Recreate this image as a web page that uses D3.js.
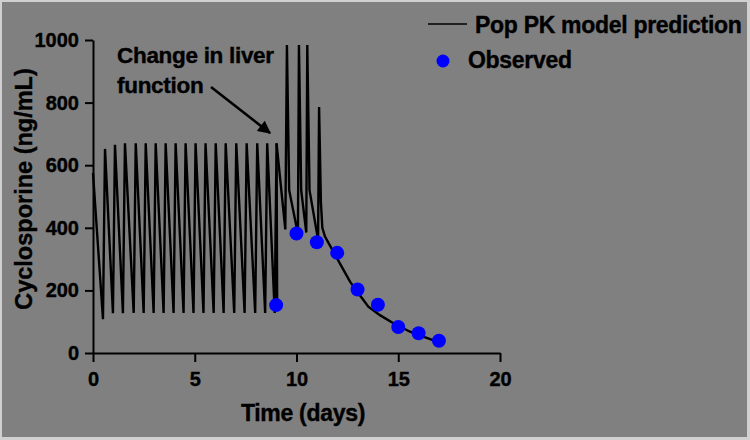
<!DOCTYPE html>
<html>
<head>
<meta charset="utf-8">
<script src="https://cdn.jsdelivr.net/npm/d3@7"></script>
<style>
  html, body { margin: 0; padding: 0; background: #d0d0d0; }
  svg { display: block; }
  text { font-family: "Liberation Sans", Arial, sans-serif; font-weight: bold; fill: #000; stroke: #000; stroke-width: 0.4px; }
</style>
</head>
<body>
<svg id="chart" width="750" height="440"></svg>
<script>
// ---- Data ----
// Model prediction, segment 1 (days 0-9, twice-daily dosing)
const modelTimes1 = [0, 0.49, 0.59, 0.98, 1.08, 1.47, 1.57, 2.00, 2.10, 2.49, 2.59, 2.98, 3.08,
  3.47, 3.57, 3.96, 4.06, 4.45, 4.55, 4.94, 5.04, 5.43, 5.53, 5.93, 6.03, 6.42, 6.52,
  6.94, 7.04, 7.45, 7.55, 7.97, 8.07, 8.46, 8.56, 8.93, 9.02, 9.05];
const modelConc1 = [575, 108, 652, 127, 665, 127, 670, 128, 670, 128, 670, 128, 670,
  128, 670, 128, 670, 128, 670, 128, 670, 128, 670, 128, 670, 128, 670,
  128, 670, 128, 670, 128, 670, 128, 670, 128, 670, 150];
// Model prediction, segment 2 (after change in liver function)
const modelTimes2 = [9.02, 9.45, 9.53, 9.64, 10.07, 10.12, 10.23, 10.48, 10.53, 10.64, 11.06,
  11.11, 11.2, 11.27, 11.4, 11.81, 12.22, 12.63, 13.04, 13.53, 14.10, 14.76, 15.58, 16.23, 16.97];
const modelConc2 = [670, 395, 984, 520, 380, 984, 520, 385, 984, 520, 362,
  786, 480, 400, 372, 324, 276, 228, 191, 148, 121, 95, 68, 52, 35];
// Observed concentrations
const obsTimes = [9, 10, 11, 12, 13, 14, 15, 16, 17];
const obsConc = [153, 382, 354, 320, 203, 154, 83, 63, 39];
// Ticks and labels
const xTicks = [0, 5, 10, 15, 20];
const yTicks = [0, 200, 400, 600, 800, 1000];
const xTitle = "Time (days)";
const yTitle = "Cyclosporine (ng/mL)";
const legendLabels = ["Pop PK model prediction", "Observed"];
const annotationLines = ["Change in liver", "function"];

// ---- Drawing ----
const svg = d3.select("#chart");
svg.append("rect").attr("x", 2).attr("y", 2).attr("width", 745).attr("height", 435)
  .attr("fill", "#808080");

const x = d3.scaleLinear().domain([0, 20]).range([93, 500]);
const y = d3.scaleLinear().domain([0, 1000]).range([353, 40]);

const line = d3.line().x(d => x(d[0])).y(d => y(d[1]));
const seg1 = modelTimes1.map((t, i) => [t, modelConc1[i]]);
const seg2 = modelTimes2.map((t, i) => [t, modelConc2[i]]);

[seg1, seg2].forEach(seg => {
  svg.append("path").datum(seg).attr("d", line)
    .attr("fill", "none").attr("stroke", "#000").attr("stroke-width", 2.4)
    .attr("stroke-linejoin", "miter").attr("stroke-miterlimit", 3);
});

// Axes
const yAxis = svg.append("g").attr("transform", `translate(${x(0)},0)`)
  .call(d3.axisLeft(y).tickValues(yTicks).tickFormat(d3.format("d"))
    .tickSize(8).tickSizeOuter(0).tickPadding(6));
const xAxis = svg.append("g").attr("transform", `translate(0,${y(0)})`)
  .call(d3.axisBottom(x).tickValues(xTicks).tickFormat(d3.format("d"))
    .tickSize(9).tickSizeOuter(0).tickPadding(10));
[xAxis, yAxis].forEach(g => {
  g.select(".domain").attr("stroke", "#000").attr("stroke-width", 2);
  g.selectAll(".tick line").attr("stroke", "#000").attr("stroke-width", 2);
  g.selectAll(".tick text").attr("font-size", 20).attr("fill", "#000")
    .attr("font-family", "Liberation Sans, Arial, sans-serif").attr("font-weight", "bold");
});

// Observed points
svg.append("g").selectAll("circle").data(obsTimes.map((t, i) => [t, obsConc[i]]))
  .join("circle").attr("cx", d => x(d[0])).attr("cy", d => y(d[1])).attr("r", 7)
  .attr("fill", "#0000ff");

// Axis titles
svg.append("text").attr("x", 303).attr("y", 421).attr("text-anchor", "middle")
  .attr("font-size", 23).attr("letter-spacing", -0.3).text(xTitle);
svg.append("text").attr("transform", "translate(32,189) rotate(-90)")
  .attr("text-anchor", "middle").attr("font-size", 23.5).text(yTitle);

// Annotation
const ann = svg.append("text").attr("font-size", 22.5).attr("letter-spacing", -0.3);
annotationLines.forEach((s, i) => {
  ann.append("tspan").attr("x", 117).attr("y", 62.5 + i * 30).text(s);
});
svg.append("defs").append("marker").attr("id", "arrow")
  .attr("viewBox", "0 0 10 10").attr("refX", 9).attr("refY", 5)
  .attr("markerWidth", 6).attr("markerHeight", 5).attr("markerUnits", "strokeWidth")
  .attr("orient", "auto")
  .append("path").attr("d", "M0,0 L10,5 L0,10 Z").attr("fill", "#000");
svg.append("line").attr("x1", 211).attr("y1", 87).attr("x2", 270).attr("y2", 133)
  .attr("stroke", "#000").attr("stroke-width", 2.6).attr("marker-end", "url(#arrow)");

// Legend
svg.append("line").attr("x1", 428).attr("x2", 467).attr("y1", 24).attr("y2", 24)
  .attr("stroke", "#000").attr("stroke-width", 1.5);
svg.append("text").attr("x", 475).attr("y", 33).attr("font-size", 23)
  .attr("letter-spacing", -0.3).text(legendLabels[0]);
svg.append("circle").attr("cx", 443).attr("cy", 61).attr("r", 6.5).attr("fill", "#0000ff");
svg.append("text").attr("x", 468).attr("y", 68).attr("font-size", 23)
  .attr("letter-spacing", -0.3).text(legendLabels[1]);
</script>
</body>
</html>
